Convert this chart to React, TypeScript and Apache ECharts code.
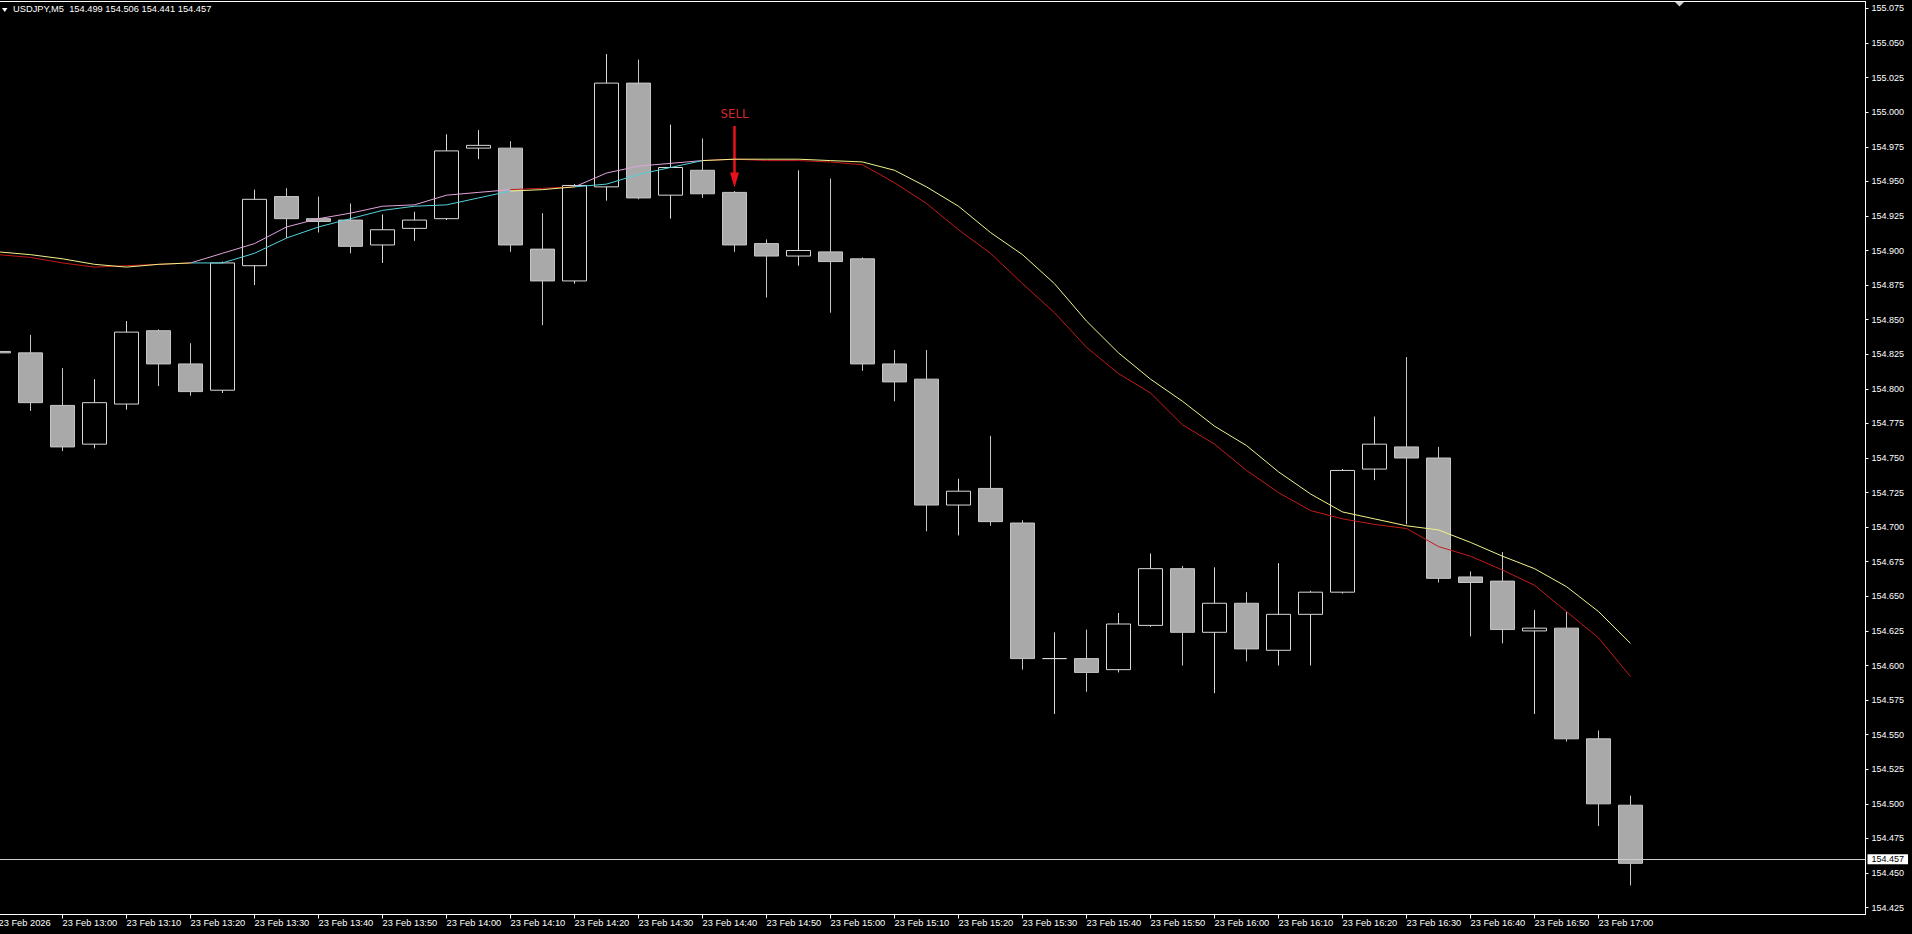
import React, { useEffect, useRef } from "react";
import * as echarts from "echarts";

const FONT = "Liberation Sans";
const symbolName = "USDJPY,M5";
const dayLabel = "23 Feb";
const yearLabel = "23 Feb 2026";

const times = [
  "12:50", "12:55", "13:00", "13:05", "13:10", "13:15", "13:20", "13:25", "13:30", "13:35",
  "13:40", "13:45", "13:50", "13:55", "14:00", "14:05", "14:10", "14:15", "14:20", "14:25",
  "14:30", "14:35", "14:40", "14:45", "14:50", "14:55", "15:00", "15:05", "15:10", "15:15",
  "15:20", "15:25", "15:30", "15:35", "15:40", "15:45", "15:50", "15:55", "16:00", "16:05",
  "16:10", "16:15", "16:20", "16:25", "16:30", "16:35", "16:40", "16:45", "16:50", "16:55",
  "17:00", "17:05",
];

const open = [
  154.827, 154.826, 154.788, 154.760, 154.789, 154.842, 154.818, 154.799, 154.889, 154.939,
  154.923, 154.922, 154.904, 154.916, 154.923, 154.974, 154.974, 154.901, 154.878, 154.946,
  155.021, 154.940, 154.958, 154.942, 154.905, 154.896, 154.899, 154.894, 154.818, 154.807,
  154.716, 154.728, 154.703, 154.605, 154.605, 154.597, 154.629, 154.670, 154.624, 154.645,
  154.611, 154.637, 154.653, 154.742, 154.758, 154.750, 154.664, 154.661, 154.625, 154.627,
  154.547, 154.499,
];
const high = [
  154.832, 154.839, 154.815, 154.807, 154.849, 154.843, 154.833, 154.892, 154.944, 154.945,
  154.939, 154.934, 154.926, 154.928, 154.984, 154.987, 154.979, 154.927, 154.948, 155.042,
  155.038, 154.991, 154.981, 154.943, 154.908, 154.958, 154.952, 154.895, 154.828, 154.828,
  154.735, 154.766, 154.705, 154.624, 154.626, 154.638, 154.681, 154.672, 154.671, 154.653,
  154.674, 154.654, 154.742, 154.780, 154.823, 154.758, 154.668, 154.682, 154.640, 154.639,
  154.553, 154.506,
];
const low = [
  154.821, 154.784, 154.755, 154.757, 154.785, 154.802, 154.795, 154.797, 154.875, 154.909,
  154.913, 154.898, 154.891, 154.907, 154.922, 154.966, 154.899, 154.846, 154.876, 154.936,
  154.937, 154.923, 154.938, 154.899, 154.866, 154.889, 154.855, 154.813, 154.791, 154.697,
  154.694, 154.701, 154.597, 154.565, 154.581, 154.595, 154.628, 154.600, 154.580, 154.603,
  154.600, 154.600, 154.652, 154.734, 154.702, 154.660, 154.621, 154.616, 154.565, 154.545,
  154.484, 154.441,
];
const close = [
  154.826, 154.790, 154.758, 154.790, 154.841, 154.818, 154.798, 154.891, 154.937, 154.923,
  154.921, 154.903, 154.915, 154.922, 154.972, 154.976, 154.904, 154.878, 154.947, 155.021,
  154.938, 154.960, 154.941, 154.904, 154.896, 154.900, 154.892, 154.818, 154.805, 154.716,
  154.726, 154.704, 154.605, 154.605, 154.595, 154.630, 154.670, 154.624, 154.645, 154.612,
  154.637, 154.653, 154.741, 154.760, 154.750, 154.663, 154.660, 154.626, 154.627, 154.547,
  154.500, 154.457,
];

const maFast = [
  154.897, 154.895, 154.891, 154.888, 154.889, 154.890, 154.891, 154.898, 154.905, 154.917,
  154.923, 154.927, 154.932, 154.933, 154.940, 154.942, 154.944, 154.945, 154.946, 154.956,
  154.961, 154.963, 154.965, 154.966, 154.965, 154.965, 154.964, 154.962, 154.949, 154.934,
  154.915, 154.898, 154.876, 154.855, 154.830, 154.811, 154.797, 154.774, 154.760, 154.741,
  154.725, 154.712, 154.706, 154.702, 154.699, 154.686, 154.679, 154.669, 154.658, 154.639,
  154.620, 154.592,
];
const maSlow = [
  154.899, 154.897, 154.894, 154.890, 154.888, 154.890, 154.891, 154.891, 154.898, 154.909,
  154.917, 154.923, 154.929, 154.932, 154.933, 154.938, 154.943, 154.944, 154.946, 154.948,
  154.955, 154.960, 154.965, 154.966, 154.966, 154.966, 154.965, 154.964, 154.958, 154.946,
  154.932, 154.913, 154.897, 154.876, 154.849, 154.826, 154.807, 154.791, 154.773, 154.759,
  154.740, 154.724, 154.711, 154.706, 154.701, 154.698, 154.689, 154.679, 154.670, 154.657,
  154.639, 154.616,
];
// index spans where the averages are rising (drawn in the "up" colours)
const risingSpans = [
  [6, 16],
  [18, 22],
];

const yTicks = [
  154.425, 154.45, 154.475, 154.5, 154.525, 154.55, 154.575, 154.6, 154.625, 154.65,
  154.675, 154.7, 154.725, 154.75, 154.775, 154.8, 154.825, 154.85, 154.875, 154.9,
  154.925, 154.95, 154.975, 155.0, 155.025, 155.05, 155.075,
];

const sellIndex = 23;
const sellLabel = "SELL";
const sellArrowFrom = 154.99;
const sellArrowTo = 154.951;

function trendPieces(upColor: string, downColor: string) {
  const pieces: any[] = [];
  let start = -Infinity;
  risingSpans.forEach(([a, b]) => {
    pieces.push(start === -Infinity ? { lt: a, color: downColor } : { gte: start, lt: a, color: downColor });
    pieces.push({ gte: a, lt: b, color: upColor });
    start = b;
  });
  pieces.push({ gte: start, color: downColor });
  return pieces;
}

export default function App() {
  const ref = useRef<HTMLDivElement>(null);

  useEffect(() => {
    if (!ref.current) return;
    const chart = echarts.init(ref.current, null, { renderer: "svg" });
    const last = close.length - 1;
    const xTickValues = times.map((_, i) => i).filter((i) => i % 2 === 0);
    const candleData = times.map((_, i) => [i, open[i], close[i], low[i], high[i]]);

    chart.setOption({
      animation: false,
      backgroundColor: "#000000",
      textStyle: { fontFamily: FONT },
      title: {
        text: `${symbolName}  ${open[last].toFixed(3)} ${high[last].toFixed(3)} ${low[last].toFixed(3)} ${close[last].toFixed(3)}`,
        left: 13,
        top: 4,
        padding: 0,
        textStyle: { color: "#ffffff", fontSize: 9.3, fontWeight: "normal", fontFamily: FONT },
      },
      graphic: [
        { type: "polygon", shape: { points: [[2, 8], [7.5, 8], [4.75, 12]] }, style: { fill: "#ffffff" } },
        { type: "polygon", shape: { points: [[1675, 2], [1684, 2], [1679.5, 6.5]] }, style: { fill: "#d0d0d0" } },
      ],
      grid: {
        left: -1.5,
        right: 46.5,
        top: 1.5,
        bottom: 19.5,
        outerBoundsMode: "none",
        containLabel: false,
        show: true,
        borderColor: "#ffffff",
        borderWidth: 1,
        backgroundColor: "transparent",
      },
      xAxis: {
        type: "value",
        min: 0,
        max: 58.34375,
        axisLine: { show: true, onZero: false, lineStyle: { color: "#ffffff", width: 1 } },
        axisTick: { show: true, customValues: xTickValues, length: 4, inside: false, lineStyle: { color: "#ffffff" } },
        axisLabel: {
          show: true,
          customValues: xTickValues,
          formatter: (v: number) => (v === 0 ? yearLabel : `${dayLabel} ${times[Math.round(v)]}`),
          align: "left",
          color: "#ffffff",
          fontSize: 9.3,
          fontFamily: FONT,
          margin: 4,
        },
        splitLine: { show: false },
      },
      yAxis: {
        type: "value",
        position: "right",
        min: 154.42,
        max: 155.08,
        axisLine: { show: true, onZero: false, lineStyle: { color: "#ffffff", width: 1 } },
        axisTick: { show: true, customValues: yTicks, length: 3, inside: false, lineStyle: { color: "#ffffff" } },
        axisLabel: {
          show: true,
          customValues: yTicks,
          formatter: (v: number) => v.toFixed(3),
          color: "#ffffff",
          fontSize: 9,
          fontFamily: FONT,
          margin: 6,
        },
        splitLine: { show: false },
      },
      visualMap: [
        { type: "piecewise", show: false, seriesIndex: 1, dimension: 0, pieces: trendPieces("#e2a2dc", "#c41a1a") },
        { type: "piecewise", show: false, seriesIndex: 2, dimension: 0, pieces: trendPieces("#52d2da", "#f2f28a") },
      ],
      series: [
        {
          type: "candlestick",
          data: candleData,
          barWidth: 24,
          clip: true,
          z: 2,
          itemStyle: {
            color: "#000000",
            color0: "#a9a9a9",
            borderColor: "#d8d8d8",
            borderColor0: "#c6c6c6",
            borderWidth: 1,
          },
          markLine: {
            silent: true,
            animation: false,
            symbol: ["none", "none"],
            data: [
              {
                yAxis: close[last],
                symbol: "none",
                lineStyle: { color: "#cfcfcf", width: 1, type: "solid" },
                label: {
                  show: true,
                  position: "end",
                  formatter: close[last].toFixed(3),
                  backgroundColor: "#ffffff",
                  color: "#000000",
                  fontSize: 9,
                  fontFamily: FONT,
                  padding: [1, 4, 0, 4],
                  distance: 2,
                },
              },
              [
                {
                  coord: [sellIndex, sellArrowFrom],
                  symbol: "none",
                  lineStyle: { color: "#e8121a", width: 2.5, type: "solid" },
                  label: {
                    show: true,
                    position: "start",
                    formatter: sellLabel,
                    color: "#d42a2a",
                    fontSize: 13,
                    fontFamily: "DejaVu Sans Condensed",
                    distance: 6,
                  },
                },
                { coord: [sellIndex, sellArrowTo], symbol: "triangle", symbolSize: [9, 15] },
              ],
            ],
          },
        },
        {
          type: "line",
          data: maFast.map((v, i) => [i, v]),
          showSymbol: false,
          silent: true,
          z: 4,
          lineStyle: { width: 1 },
        },
        {
          type: "line",
          data: maSlow.map((v, i) => [i, v]),
          showSymbol: false,
          silent: true,
          z: 5,
          lineStyle: { width: 1 },
        },
      ],
    });

    return () => chart.dispose();
  }, []);

  return (
    <div
      ref={ref}
      style={{ position: "fixed", left: 0, top: 0, width: 1912, height: 934 }}
    />
  );
}
